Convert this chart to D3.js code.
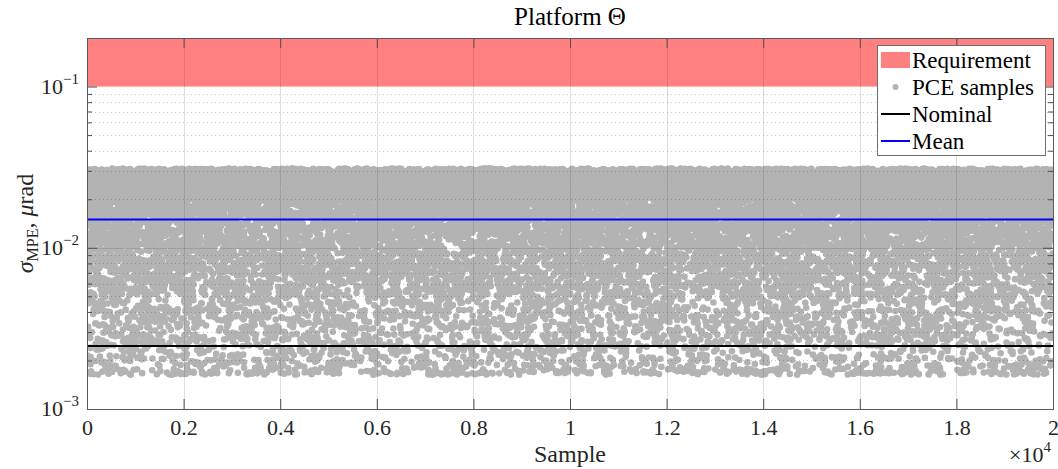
<!DOCTYPE html>
<html><head><meta charset="utf-8">
<script src="https://cdn.jsdelivr.net/npm/d3@7"></script>
<style>
body{margin:0;background:#fff}
svg{display:block}
text{font-family:"Liberation Serif","DejaVu Serif",serif;fill:#262626}
</style>
</head><body>
<svg id="chart" width="1058" height="469"></svg>
<script>
// ---------------- data ----------------
const chartTitle = "Platform \u0398";
const xLabel = "Sample";
const nSamples = 20000;
// distribution of the PCE samples, estimated from the point density seen in the picture:
// log10(sigma_MPE) levels and the fraction of samples lying below each level
const sampleLog10 = [-2.788, -2.765, -2.70, -2.602, -2.45, -2.301, -2.15, -2.0, -1.90, -1.824, -1.70, -1.60, -1.53, -1.509];
const sampleCdf   = [0, 0.012, 0.027, 0.052, 0.100, 0.150, 0.225, 0.315, 0.395, 0.470, 0.620, 0.800, 0.950, 1.0];
const nominalValue = 0.00246;
const meanValue = 0.0150;
const requirementRange = [0.1, 0.2];
const xDomain = [0, 20000];
const yDomain = [1e-3, 0.2];
const xTicks = [0, 2000, 4000, 6000, 8000, 10000, 12000, 14000, 16000, 18000, 20000];
const xTickLabels = ["0", "0.2", "0.4", "0.6", "0.8", "1", "1.2", "1.4", "1.6", "1.8", "2"];
const yTicks = [1e-3, 1e-2, 1e-1];
const yTickExponents = ["\u22123", "\u22122", "\u22121"];
const yMinorTicks = [2e-3,3e-3,4e-3,5e-3,6e-3,7e-3,8e-3,9e-3,2e-2,3e-2,4e-2,5e-2,6e-2,7e-2,8e-2,9e-2];
const legendLabels = ["Requirement", "PCE samples", "Nominal", "Mean"];

// ---------------- layout ----------------
const L = 87, R = 1053, T = 38, B = 409;
const svg = d3.select("#chart");
const x = d3.scaleLinear().domain(xDomain).range([L, R]);
const y = d3.scaleLog().domain(yDomain).range([B, T]);

// individual sample values are not readable; each sample index k is given a value from the
// estimated distribution above, ordered along the index by a fixed deterministic sequence
const invCdf = d3.scaleLinear().domain(sampleCdf).range(sampleLog10).clamp(true);
const samples = [];
{
  let a = 0, d2 = 0, d3s = 0;
  for (let k = 1; k <= nSamples; k++) {
    d3s = (d3s + 0.7548776662) % 1;
    d2 = (d2 + d3s + 0.41421356237) % 1;
    a = (a + d2 + 0.61803398875) % 1;
    samples.push({ k: k, v: Math.pow(10, invCdf(a)) });
  }
}

svg.append("defs").append("clipPath").attr("id", "plotclip")
  .append("rect").attr("x", L).attr("y", T).attr("width", R - L).attr("height", B - T);

const plot = svg.append("g").attr("clip-path", "url(#plotclip)");

// requirement band
plot.append("rect")
  .attr("x", x(xDomain[0])).attr("width", x(xDomain[1]) - x(xDomain[0]))
  .attr("y", y(requirementRange[1])).attr("height", y(requirementRange[0]) - y(requirementRange[1]))
  .attr("fill", "#ff8080");

// samples
plot.append("g").attr("fill", "#b3b3b3")
  .selectAll("circle").data(samples).join("circle")
  .attr("cx", d => x(d.k)).attr("cy", d => y(d.v)).attr("r", 3.3);

// nominal & mean
plot.append("line").attr("x1", x(xDomain[0])).attr("x2", x(xDomain[1]))
  .attr("y1", y(nominalValue)).attr("y2", y(nominalValue))
  .attr("stroke", "#000").attr("stroke-width", 2);
plot.append("line").attr("x1", x(xDomain[0])).attr("x2", x(xDomain[1]))
  .attr("y1", y(meanValue)).attr("y2", y(meanValue))
  .attr("stroke", "#0000ff").attr("stroke-width", 2);

// grid (on top of data)
const grid = svg.append("g");
grid.selectAll(".xg").data(xTicks.slice(1, -1)).join("line")
  .attr("x1", d => Math.round(x(d)) + 0.5).attr("x2", d => Math.round(x(d)) + 0.5)
  .attr("y1", T).attr("y2", B).attr("stroke", "#262626").attr("stroke-opacity", 0.15);
grid.selectAll(".yg").data([1e-2]).join("line")
  .attr("x1", L).attr("x2", R)
  .attr("y1", d => Math.round(y(d)) + 0.5).attr("y2", d => Math.round(y(d)) + 0.5)
  .attr("stroke", "#262626").attr("stroke-opacity", 0.15);
grid.selectAll(".ym").data(yMinorTicks).join("line")
  .attr("x1", L).attr("x2", R)
  .attr("y1", d => Math.round(y(d)) + 0.5).attr("y2", d => Math.round(y(d)) + 0.5)
  .attr("stroke", "#262626").attr("stroke-opacity", 0.25).attr("stroke-dasharray", "1,3");

// axes
function styleAxis(g) {
  g.select(".domain").remove();
  g.selectAll("line").attr("stroke", "#4d4d4d");
  g.attr("font-family", null);
}
const gxB = svg.append("g").attr("transform", `translate(0,${B})`)
  .call(d3.axisBottom(x).tickValues(xTicks).tickFormat((d, i) => xTickLabels[i])
    .tickSizeInner(-10).tickSizeOuter(0).tickPadding(10));
styleAxis(gxB);
gxB.attr("font-size", 22);
gxB.selectAll("text").attr("fill", "#262626");

const gxT = svg.append("g").attr("transform", `translate(0,${T})`)
  .call(d3.axisTop(x).tickValues(xTicks).tickFormat("").tickSizeInner(-10).tickSizeOuter(0));
styleAxis(gxT);

[[d3.axisLeft, L], [d3.axisRight, R]].forEach(([ax, pos]) => {
  const gMaj = svg.append("g").attr("transform", `translate(${pos},0)`)
    .call(ax(y).tickValues(yTicks).tickFormat("").tickSizeInner(-10).tickSizeOuter(0));
  styleAxis(gMaj);
  const gMin = svg.append("g").attr("transform", `translate(${pos},0)`)
    .call(ax(y).tickValues(yMinorTicks).tickFormat("").tickSizeInner(-5).tickSizeOuter(0));
  styleAxis(gMin);
});

// y tick labels 10^k
yTicks.forEach((t, i) => {
  const tx = svg.append("text").attr("x", L - 8).attr("y", y(t) + 7)
    .attr("text-anchor", "end").attr("font-size", 22);
  tx.append("tspan").text("10");
  tx.append("tspan").attr("font-size", 15).attr("dy", -10).text(yTickExponents[i]);
});

// box
svg.append("rect").attr("x", L + 0.5).attr("y", T + 0.5).attr("width", R - L).attr("height", B - T)
  .attr("fill", "none").attr("stroke", "#5a5a5a").attr("stroke-width", 1);

// x exponent
const ex = svg.append("text").attr("x", R - 2).attr("y", 462).attr("text-anchor", "end").attr("font-size", 22);
ex.append("tspan").text("\u00d710");
ex.append("tspan").attr("font-size", 15).attr("dy", -10).text("4");

// labels
svg.append("text").attr("x", (L + R) / 2).attr("y", 462).attr("text-anchor", "middle")
  .attr("font-size", 24).text(xLabel);
svg.append("text").attr("x", (L + R) / 2).attr("y", 25).attr("text-anchor", "middle")
  .attr("font-size", 25).style("fill", "#000").text(chartTitle);

const yl = svg.append("text").attr("transform", `translate(33,${(T + B) / 2}) rotate(-90)`)
  .attr("text-anchor", "middle").attr("font-size", 24);
yl.append("tspan").attr("font-style", "italic").text("\u03c3");
yl.append("tspan").attr("font-size", 16).attr("dy", 5).text("MPE");
yl.append("tspan").attr("dy", -5).text(", ");
yl.append("tspan").attr("font-style", "italic").text("\u03bc");
yl.append("tspan").text("rad");

// legend
const lg = svg.append("g");
lg.append("rect").attr("x", 877.5).attr("y", 45.5).attr("width", 168).attr("height", 110)
  .attr("fill", "#fff").attr("stroke", "#6e6e6e").attr("stroke-width", 1);
const rowY = [60, 87, 114, 141];
lg.append("rect").attr("x", 881).attr("y", rowY[0] - 8).attr("width", 29).attr("height", 16).attr("fill", "#ff8080");
lg.append("circle").attr("cx", 895.5).attr("cy", rowY[1]).attr("r", 3).attr("fill", "#b3b3b3");
lg.append("line").attr("x1", 881).attr("x2", 910).attr("y1", rowY[2]).attr("y2", rowY[2])
  .attr("stroke", "#000").attr("stroke-width", 2);
lg.append("line").attr("x1", 881).attr("x2", 910).attr("y1", rowY[3]).attr("y2", rowY[3])
  .attr("stroke", "#0000ff").attr("stroke-width", 2);
legendLabels.forEach((s, i) => {
  lg.append("text").attr("x", 912).attr("y", rowY[i] + 7.5).attr("font-size", 23).style("fill", "#000").text(s);
});
</script>
</body></html>
